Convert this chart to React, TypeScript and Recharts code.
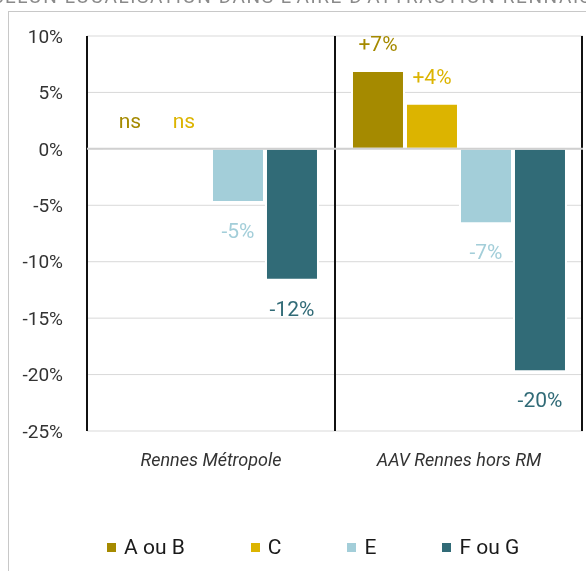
import React from "react";
import { BarChart, Bar, XAxis, YAxis, CartesianGrid, ReferenceLine, LabelList, Legend } from "recharts";

const categories = ["Rennes Métropole", "AAV Rennes hors RM"];
const seriesNames = ["A ou B", "C", "E", "F ou G"];
const seriesKeys = ["ab", "c", "e", "fg"];
const seriesColors = ["#A58A00", "#DCB400", "#A3CED9", "#316B77"];
const valuesAB = [0, 6.9];
const valuesC = [0, 4.0];
const valuesE = [-4.7, -6.6];
const valuesFG = [-11.6, -19.7];
const labelsAB = ["ns", "+7%"];
const labelsC = ["ns", "+4%"];
const labelsE = ["-5%", "-7%"];
const labelsFG = ["-12%", "-20%"];
const yTicks = [-25, -20, -15, -10, -5, 0, 5, 10];
const titleText = "SELON LOCALISATION DANS L'AIRE D'ATTRACTION RENNAISE";

const seriesValues = [valuesAB, valuesC, valuesE, valuesFG];
const seriesLabels = [labelsAB, labelsC, labelsE, labelsFG];

const data = categories.map((name, i) => {
  const row: any = { name };
  seriesKeys.forEach((k, s) => {
    row[k] = seriesValues[s][i];
    row[k + "Label"] = seriesLabels[s][i];
  });
  return row;
});

const FONT = "Roboto, 'DejaVu Sans', sans-serif";

const makeLabel = (s: number) => (props: any) => {
  const vb = props.viewBox || {};
  const x = props.x ?? vb.x;
  const y = props.y ?? vb.y;
  const w = props.width ?? vb.width;
  const h = props.height ?? vb.height ?? 0;
  const text = String(props.value ?? "");
  const negative = text.startsWith("-");
  const top = Math.min(y, y + h);
  const bottom = Math.max(y, y + h);
  const cx = x + w / 2;
  const ty = negative ? bottom + 36 : top - 20;
  return (
    <text x={cx} y={ty} textAnchor="middle" fill={seriesColors[s]} fontSize={21} fontFamily={FONT}>
      {text}
    </text>
  );
};

const LegendContent = () => (
  <div style={{ display: "flex", alignItems: "center", height: 30, paddingLeft: 98, fontFamily: FONT }}>
    {seriesNames.map((n, i) => (
      <div key={n} style={{ display: "flex", alignItems: "center", marginRight: 66 }}>
        <div style={{ width: 9, height: 9, background: seriesColors[i], marginRight: 8 }} />
        <span style={{ fontSize: 21, color: "#1a1a1a", lineHeight: "30px", whiteSpace: "nowrap" }}>{n}</span>
      </div>
    ))}
  </div>
);

const vertGen = (props: any) => {
  const o = props.offset || {};
  const left = o.left ?? 78;
  const width = o.width ?? 496;
  return [left, left + width / 2, left + width - 1];
};

export default function App() {
  return (
    <div>
      <div
        style={{
          position: "fixed",
          top: -13,
          left: -8,
          fontFamily: FONT,
          fontSize: 19,
          lineHeight: "20px",
          color: "#8a8a8a",
          whiteSpace: "nowrap",
          letterSpacing: 1.6,
        }}
      >
        {titleText}
      </div>
      <div
        style={{
          position: "fixed",
          top: 11,
          left: 8,
          borderTop: "1px solid #c8c8c8",
          borderLeft: "1px solid #c8c8c8",
          width: 577,
          height: 560,
          overflow: "hidden",
        }}
      >
        <BarChart
          width={577}
          height={559}
          data={data}
          margin={{ top: 24, right: 3, left: 18, bottom: 70 }}
          barCategoryGap="6.85%"
          barGap={2}
        >
          <CartesianGrid horizontal={true} vertical={false} stroke="#d9d9d9" strokeWidth={1} />
          <CartesianGrid horizontal={false} vertical={true} verticalCoordinatesGenerator={vertGen} stroke="#111" strokeWidth={2} />
          <XAxis
            dataKey="name"
            axisLine={false}
            tickLine={false}
            tickSize={0}
            tickMargin={22}
            height={40}
            tick={{ fontSize: 18, fontStyle: "italic", fill: "#333", fontFamily: FONT }}
          />
          <YAxis
            domain={[-25, 10]}
            ticks={yTicks}
            interval={0}
            axisLine={false}
            tickLine={false}
            tickSize={0}
            tickMargin={24}
            width={60}
            tickFormatter={(v: number) => `${v}%`}
            tick={{ fontSize: 19, fill: "#333", fontFamily: FONT }}
          />
          {seriesKeys.map((k, s) => (
            <Bar
              key={k}
              dataKey={k}
              name={seriesNames[s]}
              fill={seriesColors[s]}
              stroke="#fff"
              strokeWidth={2}
              minPointSize={1}
              isAnimationActive={false}
            >
              <LabelList dataKey={k + "Label"} content={makeLabel(s)} />
            </Bar>
          ))}
          <ReferenceLine y={0} stroke="#d0d0d0" strokeWidth={2} />
          <Legend content={<LegendContent />} wrapperStyle={{ top: 520, left: 0, width: 577, height: 30 }} />
        </BarChart>
      </div>
    </div>
  );
}
